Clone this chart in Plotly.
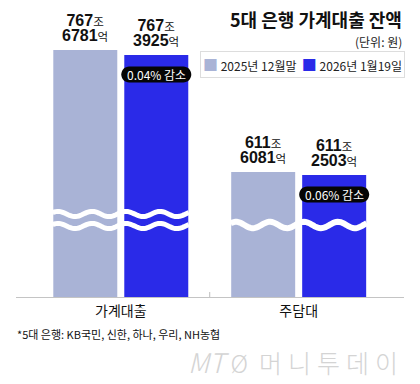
import numpy as np
import plotly.graph_objects as go

# ---------------- data ----------------
categories = ["가계대출", "주담대"]
series_names = ["2025년 12월말", "2026년 1월19일"]
values_dec = [767.6781, 611.6081]   # 단위: 조원
values_jan = [767.3925, 611.2503]
title_text = "5대 은행 가계대출 잔액"
unit_text = "(단위: 원)"
footnote_text = "*5대 은행: KB국민, 신한, 하나, 우리, NH농협"

# truncated (broken) value axes, one per category group
axis_ranges = [[753.57, 770.53], [596.70, 632.12]]

# ---------------- style ----------------
colors = ["#a9b3d6", "#2a2ae8"]
KFONT = "Noto Sans CJK KR, Noto Sans, sans-serif"
NFONT = "Liberation Sans Narrow, Liberation Sans, Arial, sans-serif"

W, H = 420, 384
L, R, T, B = 16, 16, 0, 87
PW, PH = W - L - R, H - T - B


def px(x):
    return (x - L) / PW


def py(y):
    return 1 - (y - T) / PH


BAR_OFF = 35.5   # px from category centre to each bar centre
HALF_GROUP = 68  # px half width of a bar group

fig = go.Figure()
yrefs = ["y", "y2"]
series_vals = [values_dec, values_jan]
for i, cat in enumerate(categories):
    for s, name in enumerate(series_names):
        fig.add_trace(go.Bar(
            x=[cat], y=[series_vals[s][i]], name=name,
            marker=dict(color=colors[s], line=dict(width=0)),
            yaxis=yrefs[i], showlegend=False, hoverinfo="skip"))

annotations = []
shapes = []


def fmt_parts(v):
    jo = int(v)
    eok = int(round((v - jo) * 10000))
    return jo, eok


NUM_SPAN = ("<span style='font-size:16px;font-family:Liberation Sans Narrow, "
            "Liberation Sans, Arial'><b>{}</b></span>")
for i, cat in enumerate(categories):
    yr = yrefs[i]
    for s in range(2):
        v = series_vals[s][i]
        jo, eok = fmt_parts(v)
        xs = -BAR_OFF if s == 0 else BAR_OFF
        annotations.append(dict(
            x=cat, y=v, xref="x", yref=yr, xshift=xs, yshift=4,
            yanchor="bottom", xanchor="center", showarrow=False, align="center",
            text=NUM_SPAN.format(jo) + "조<br>" + NUM_SPAN.format(eok) + "억",
            font=dict(family=KFONT, size=11.5, color="#111")))
    # decrease pill
    a, b = values_dec[i], values_jan[i]
    pct = (a - b) / a * 100
    cx, cy, hw, hh = BAR_OFF, -19.5, 35, 8
    r = hh
    k = 0.55 * r
    path = (f"M{cx-hw+r},{cy+hh} L{cx+hw-r},{cy+hh} "
            f"C{cx+hw-r+k},{cy+hh} {cx+hw},{cy+k} {cx+hw},{cy} "
            f"C{cx+hw},{cy-k} {cx+hw-r+k},{cy-hh} {cx+hw-r},{cy-hh} "
            f"L{cx-hw+r},{cy-hh} "
            f"C{cx-hw+r-k},{cy-hh} {cx-hw},{cy-k} {cx-hw},{cy} "
            f"C{cx-hw},{cy+k} {cx-hw+r-k},{cy+hh} {cx-hw+r},{cy+hh} Z")
    shapes.append(dict(type="path", xref="x", yref=yr, xsizemode="pixel", ysizemode="pixel",
                       xanchor=cat, yanchor=b, path=path,
                       fillcolor="#050505", line=dict(width=0), layer="above"))
    annotations.append(dict(
        x=cat, y=b, xref="x", yref=yr, xshift=BAR_OFF, yshift=-19.5,
        yanchor="middle", xanchor="center", showarrow=False,
        text=f"{pct:.2f}% 감소", font=dict(family=KFONT, size=12, color="white")))


def wave_path(center, amp, period, phase=0.0):
    xs = np.linspace(-HALF_GROUP, HALF_GROUP, 90)
    ys = center + amp * np.sin(2 * np.pi * xs / period + phase)
    return "M" + " L".join(f"{x:.2f},{y:.2f}" for x, y in zip(xs, ys))


# break marks (white waves): heights in px above the baseline
wave_specs = [
    [(83, 2.6, 34, 5.0), (71, 2.6, 34, 5.0)],
    [(72, 3.2, 34, 6.0)],
]
for i, cat in enumerate(categories):
    for (c, amp, per, wdt) in wave_specs[i]:
        shapes.append(dict(type="path", xref="x", yref="paper", xsizemode="pixel",
                           ysizemode="pixel", xanchor=cat, yanchor=0,
                           path=wave_path(c, amp, per, phase=0.6),
                           line=dict(color="white", width=wdt), layer="above"))

# divider tick between the groups
shapes.append(dict(type="line", xref="x", yref="paper", ysizemode="pixel", yanchor=0,
                   x0=0.5, x1=0.5, y0=0, y1=5, line=dict(color="#bdbdbd", width=1)))

# title, unit, legend, footnote, watermark
annotations += [
    dict(x=px(404), y=py(18.5), xref="paper", yref="paper", xanchor="right", yanchor="middle",
         showarrow=False, text=f"<b>{title_text}</b>",
         font=dict(family=KFONT, size=18, color="#111")),
    dict(x=px(404), y=py(41), xref="paper", yref="paper", xanchor="right", yanchor="middle",
         showarrow=False, text=unit_text, font=dict(family=KFONT, size=12, color="#222")),
    dict(x=px(405), y=py(64), xref="paper", yref="paper", xanchor="right", yanchor="middle",
         showarrow=False,
         text=(f"<span style='color:{colors[0]};font-size:15px'>■</span> {series_names[0]}  "
               f"<span style='color:{colors[1]};font-size:15px'>■</span> {series_names[1]}"),
         bordercolor="#dddddd", borderwidth=1, borderpad=2,
         font=dict(family=KFONT, size=12, color="#222")),
    dict(x=px(15), y=py(334), xref="paper", yref="paper", xanchor="left", yanchor="middle",
         showarrow=False, text=footnote_text, font=dict(family=KFONT, size=11, color="#111")),
    dict(x=px(406), y=py(361), xref="paper", yref="paper", xanchor="right", yanchor="middle",
         showarrow=False,
         text=("<i><span style='font-size:27px'>MT</span></i> "
               "<span style='font-size:24px'>Ø</span>  "
               "<span style='letter-spacing:6px'>머니투데이</span>"),
         font=dict(family=KFONT, size=25, color="#d4d4d4", weight=300)),
]

fig.update_layout(
    width=W, height=H, margin=dict(l=L, r=R, t=T, b=B),
    paper_bgcolor="white", plot_bgcolor="white",
    barmode="group", bargap=0.202, bargroupgap=0.0986,
    xaxis=dict(type="category", categoryorder="array", categoryarray=categories,
               range=[-0.589, 1.592], showline=True, linecolor="#c4c4c4", linewidth=1,
               ticks="", showgrid=False, zeroline=False, ticklabelstandoff=1,
               tickfont=dict(family=KFONT, size=14, color="#111")),
    yaxis=dict(range=axis_ranges[0], visible=False, showgrid=False),
    yaxis2=dict(range=axis_ranges[1], visible=False, showgrid=False, overlaying="y"),
    annotations=annotations, shapes=shapes, showlegend=False,
)

fig.write_html("out.html", config={"displayModeBar": False},
               post_script="document.body.style.margin='0';document.body.style.overflow='hidden';")
